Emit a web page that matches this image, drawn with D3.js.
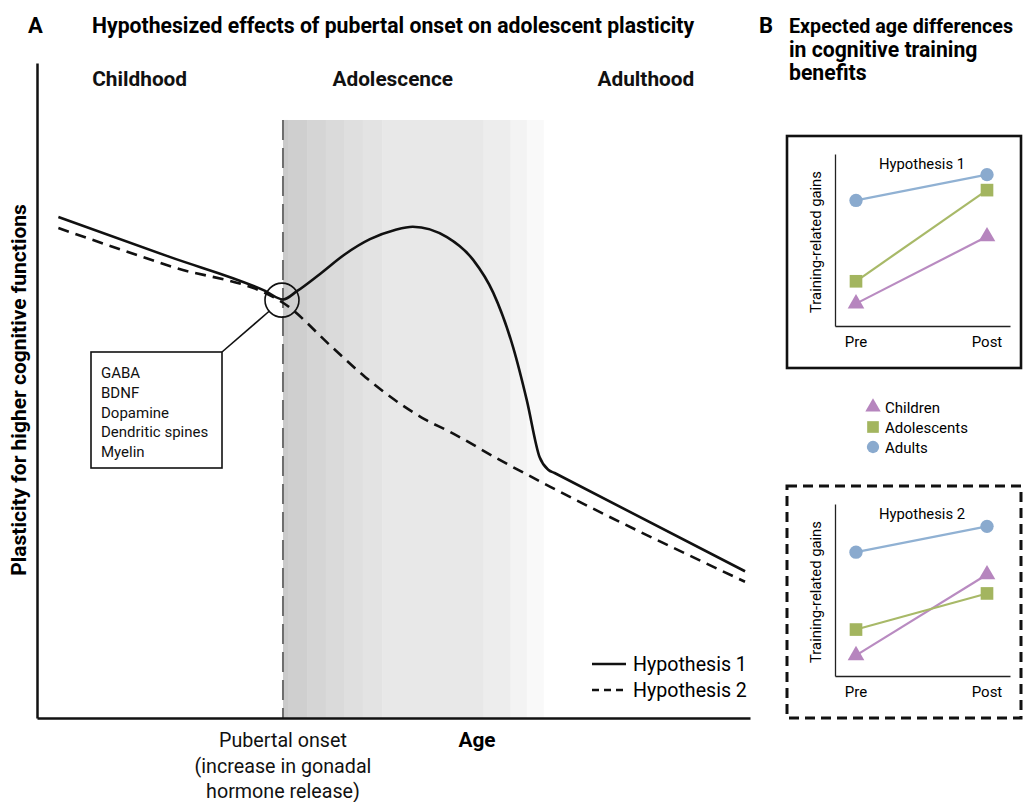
<!DOCTYPE html>
<html>
<head>
<meta charset="utf-8">
<script src="https://cdn.jsdelivr.net/npm/d3@7"></script>
<style>
  body { margin: 0; background: #fff; }
  svg { display: block; font-family: Roboto, "Liberation Sans", sans-serif; }
</style>
</head>
<body>
<div id="chart"></div>
<script>
// panel A: plasticity across age (arbitrary units 0-100)
const stages = ['Childhood', 'Adolescence', 'Adulthood'];
const stageAges = [14.4, 49.9, 85.4];
const onsetAge = 34.5;

const h1Age = [3, 18.6, 32, 34.5, 36.5, 39.7, 43.2, 46.7, 50.2, 52.7, 57.5, 61.2, 64.0, 66.8, 68.7, 70.5, 71.7, 72.6, 99.3];
const h1Plasticity = [76.5, 70.4, 65.2, 63.9, 65.2, 67.8, 70.8, 73.1, 74.5, 75.0, 73.4, 69.9, 64.9, 56.5, 48.5, 39.8, 37.9, 37.4, 22.4];

const h2Age = [3, 18.6, 34.5, 41.4, 46.1, 50.9, 54.4, 57.9, 64.9, 72.0, 99.3];
const h2Plasticity = [74.8, 69.0, 63.4, 56.6, 52.0, 48.0, 45.6, 43.7, 39.4, 35.3, 20.8];

// shading after pubertal onset
const bandEdges = [34.5, 35.2, 37.9, 40.5, 43.1, 45.7, 48.4, 62.6, 66.4, 68.7, 71.0];
const bandShades = ['#cacaca', '#cfcfcf', '#d5d5d5', '#dadada', '#dfdfdf', '#e3e3e3', '#e8e8e8', '#ededed', '#f3f3f3', '#f9f9f9'];

const mechanisms = ['GABA', 'BDNF', 'Dopamine', 'Dendritic spines', 'Myelin'];
const onsetLabel = ['Pubertal onset', '(increase in gonadal', 'hormone release)'];

// panel B: training gains
const sessions = ['Pre', 'Post'];
const groups = ['Children', 'Adolescents', 'Adults'];
const hyp1Gains = [[1.3, 5.2], [2.6, 7.9], [7.3, 8.8]];
const hyp2Gains = [[1.2, 5.9], [2.7, 4.8], [7.2, 8.7]];

const groupColor = d3.scaleOrdinal(groups, ['#b685be', '#a3b55f', '#8aaace']);
const groupLine = d3.scaleOrdinal(groups, ['#b98bc1', '#a8b968', '#90b1d3']);
const groupSymbol = d3.scaleOrdinal(groups, [d3.symbolTriangle, d3.symbolSquare, d3.symbolCircle]);
const groupSize = d3.scaleOrdinal(groups, [120, 160, 140]);

const svg = d3.select('#chart').append('svg')
    .attr('width', 1023)
    .attr('height', 802);

const x = d3.scaleLinear().domain([0, 100]).range([37, 750]);
const y = d3.scaleLinear().domain([0, 100]).range([718, 63]);

function drawPanelA() {
    const g = svg.append('g');

    g.selectAll('.band')
        .data(bandShades)
        .enter().append('rect')
        .attr('x', (d, i) => x(bandEdges[i]))
        .attr('width', (d, i) => x(bandEdges[i + 1]) - x(bandEdges[i]) + 0.5)
        .attr('y', y(91.3))
        .attr('height', y(0) - y(91.3))
        .attr('fill', d => d);

    g.append('line')
        .attr('x1', x(onsetAge)).attr('x2', x(onsetAge))
        .attr('y1', y(91.3)).attr('y2', y(0))
        .attr('stroke', '#6e6e6e')
        .attr('stroke-width', 2)
        .attr('stroke-dasharray', '20 8');

    g.append('g')
        .attr('transform', `translate(0,${y(0)})`)
        .call(d3.axisBottom(x).tickValues([]).tickSizeOuter(0))
        .select('.domain').attr('stroke', '#111').attr('stroke-width', 2.5);
    g.append('g')
        .attr('transform', `translate(${x(0)},0)`)
        .call(d3.axisLeft(y).tickValues([]).tickSizeOuter(0))
        .select('.domain').attr('stroke', '#111').attr('stroke-width', 2.5);

    const line = d3.line()
        .x(d => x(d[0]))
        .y(d => y(d[1]))
        .curve(d3.curveMonotoneX);

    g.append('path')
        .attr('d', line(d3.zip(h2Age, h2Plasticity)))
        .attr('fill', 'none')
        .attr('stroke', '#111')
        .attr('stroke-width', 2.6)
        .attr('stroke-dasharray', '11 7');

    g.append('path')
        .attr('d', line(d3.zip(h1Age, h1Plasticity)))
        .attr('fill', 'none')
        .attr('stroke', '#111')
        .attr('stroke-width', 2.6);

    // callout
    const cx = x(onsetAge) - 1, cy = y(63.8), r = 17;
    const bx = 91, by = 352, bw = 131, bh = 116;
    const dx = bx + bw - cx, dy = by - cy, len = Math.hypot(dx, dy);
    g.append('circle')
        .attr('cx', cx).attr('cy', cy).attr('r', r)
        .attr('fill', 'none').attr('stroke', '#111').attr('stroke-width', 1.6);
    g.append('line')
        .attr('x1', cx + dx / len * r).attr('y1', cy + dy / len * r)
        .attr('x2', bx + bw).attr('y2', by)
        .attr('stroke', '#111').attr('stroke-width', 1.6);
    g.append('rect')
        .attr('x', bx).attr('y', by).attr('width', bw).attr('height', bh)
        .attr('fill', '#fff').attr('stroke', '#111').attr('stroke-width', 1.6);
    g.selectAll('.mech')
        .data(mechanisms)
        .enter().append('text')
        .attr('x', bx + 10)
        .attr('y', (d, i) => by + 26 + i * 19.8)
        .attr('font-size', 15)
        .attr('fill', '#111')
        .text(d => d);

    g.selectAll('.stage')
        .data(stages)
        .enter().append('text')
        .attr('x', (d, i) => x(stageAges[i]))
        .attr('y', 86)
        .attr('text-anchor', 'middle')
        .attr('font-size', 20.8)
        .attr('font-weight', 'bold')
        .attr('fill', '#111')
        .text(d => d);

    g.selectAll('.onset')
        .data(onsetLabel)
        .enter().append('text')
        .attr('x', x(onsetAge))
        .attr('y', (d, i) => 747 + i * 25.5)
        .attr('text-anchor', 'middle')
        .attr('font-size', 19.7)
        .attr('fill', '#111')
        .text(d => d);

    g.append('text')
        .attr('x', 477).attr('y', 747)
        .attr('text-anchor', 'middle')
        .attr('font-size', 20.8).attr('font-weight', 'bold')
        .text('Age');

    g.append('text')
        .attr('transform', 'translate(26,390) rotate(-90)')
        .attr('text-anchor', 'middle')
        .attr('font-size', 21).attr('font-weight', 'bold')
        .text('Plasticity for higher cognitive functions');

    // legend
    const legend = g.append('g').attr('transform', 'translate(592,664)');
    ['Hypothesis 1', 'Hypothesis 2'].forEach((d, i) => {
        legend.append('line')
            .attr('x1', 0).attr('x2', 34)
            .attr('y1', i * 26).attr('y2', i * 26)
            .attr('stroke', '#111').attr('stroke-width', 2.6)
            .attr('stroke-dasharray', i ? '7 5' : null);
        legend.append('text')
            .attr('x', 41).attr('y', i * 26 + 7)
            .attr('font-size', 19.6)
            .text(d);
    });

    svg.append('text').attr('x', 28).attr('y', 33)
        .attr('font-size', 22).attr('font-weight', 'bold').text('A');
    svg.append('text').attr('x', 92).attr('y', 33)
        .attr('font-size', 21.2).attr('font-weight', 'bold')
        .text('Hypothesized effects of pubertal onset on adolescent plasticity');
}

function drawGainsPanel(top, title, gains, dashed) {
    const g = svg.append('g');

    g.append('rect')
        .attr('x', 787).attr('y', top)
        .attr('width', 234).attr('height', 232)
        .attr('fill', 'none').attr('stroke', '#111')
        .attr('stroke-width', dashed ? 3 : 2.6)
        .attr('stroke-dasharray', dashed ? '10 6' : null);

    const xs = d3.scalePoint().domain(sessions).range([856, 987]);
    const ys = d3.scaleLinear().domain([0, 10]).range([top + 190, top + 18]);

    g.append('g')
        .attr('transform', `translate(0,${top + 190})`)
        .call(d3.axisBottom(d3.scaleLinear().range([835, 1010])).tickValues([]).tickSizeOuter(0))
        .select('.domain').attr('stroke', '#222').attr('stroke-width', 1.3);
    g.append('g')
        .attr('transform', 'translate(835,0)')
        .call(d3.axisLeft(ys).tickValues([]).tickSizeOuter(0))
        .select('.domain').attr('stroke', '#222').attr('stroke-width', 1.3);

    g.selectAll('.sess')
        .data(sessions)
        .enter().append('text')
        .attr('x', d => xs(d))
        .attr('y', top + 211)
        .attr('text-anchor', 'middle')
        .attr('font-size', 15)
        .text(d => d);

    g.append('text')
        .attr('x', 922).attr('y', top + 33)
        .attr('text-anchor', 'middle')
        .attr('font-size', 14.8)
        .text(title);

    g.append('text')
        .attr('transform', `translate(821,${top + 106}) rotate(-90)`)
        .attr('text-anchor', 'middle')
        .attr('font-size', 14.8)
        .text('Training-related gains');

    const series = g.selectAll('.series')
        .data(groups)
        .enter().append('g');

    series.append('line')
        .attr('x1', xs('Pre')).attr('x2', xs('Post'))
        .attr('y1', (d, i) => ys(gains[i][0]))
        .attr('y2', (d, i) => ys(gains[i][1]))
        .attr('stroke', d => groupLine(d))
        .attr('stroke-width', 2.2);

    series.selectAll('path')
        .data((d, i) => sessions.map((s, j) => ({ group: d, session: s, value: gains[i][j] })))
        .enter().append('path')
        .attr('transform', d => `translate(${xs(d.session)},${ys(d.value)})`)
        .attr('d', d => d3.symbol(groupSymbol(d.group), groupSize(d.group))())
        .attr('fill', d => groupColor(d.group));
}

function drawPanelB() {
    svg.append('text').attr('x', 759).attr('y', 33)
        .attr('font-size', 22).attr('font-weight', 'bold').text('B');
    ['Expected age differences', 'in cognitive training', 'benefits'].forEach((d, i) => {
        svg.append('text')
            .attr('x', 789).attr('y', 33 + i * 23.5)
            // first line slightly smaller so it stays inside the page
            .attr('font-size', i === 0 ? 19.7 : 21.2)
            .attr('font-weight', 'bold')
            .text(d);
    });

    drawGainsPanel(136, 'Hypothesis 1', hyp1Gains, false);
    drawGainsPanel(486, 'Hypothesis 2', hyp2Gains, true);

    const legend = svg.append('g');
    const item = legend.selectAll('g')
        .data(groups)
        .enter().append('g')
        .attr('transform', (d, i) => `translate(873,${407 + i * 20})`);
    item.append('path')
        .attr('d', d => d3.symbol(groupSymbol(d), groupSize(d) * 0.85)())
        .attr('fill', d => groupColor(d));
    item.append('text')
        .attr('x', 12).attr('y', 5.5)
        .attr('font-size', 15)
        .text(d => d);
}

drawPanelA();
drawPanelB();
</script>
</body>
</html>
